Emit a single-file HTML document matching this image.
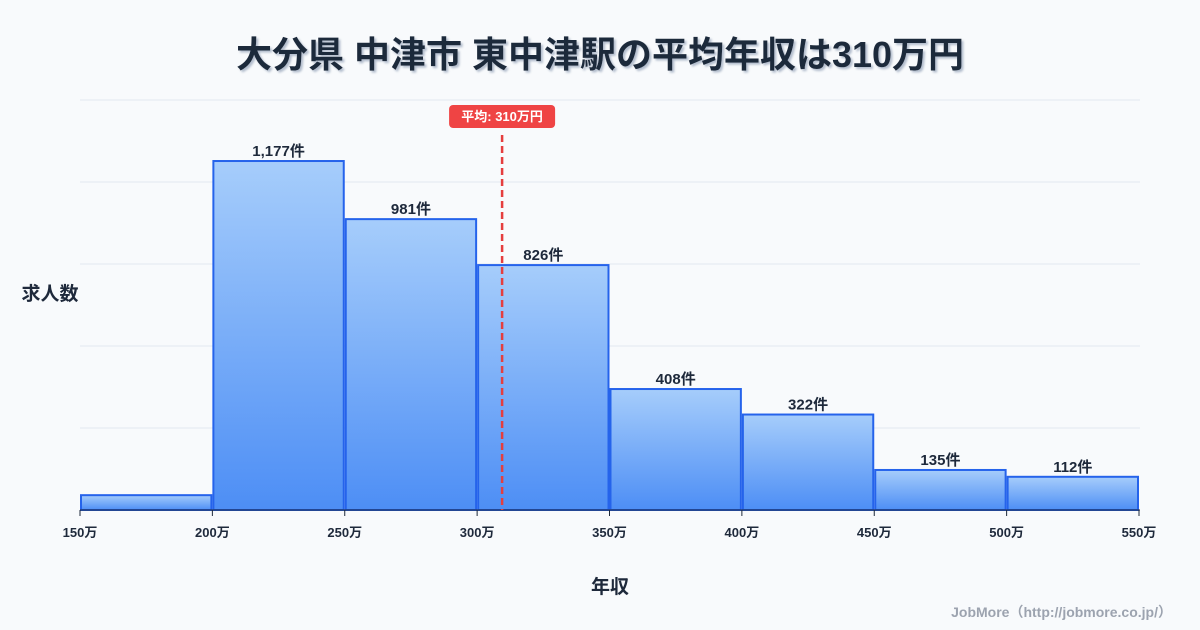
<!DOCTYPE html>
<html><head><meta charset="utf-8"><style>
body{margin:0;background:#f8fafc;}
svg{display:block;font-family:"Liberation Sans","Noto Sans CJK JP",sans-serif;}
</style></head><body>
<svg id="c" width="1200" height="630">
<defs><linearGradient id="g" x1="0" y1="0" x2="0" y2="1"><stop offset="0" stop-color="#a6cdfb"/><stop offset="1" stop-color="#4d8ef5"/></linearGradient>
<filter id="sh"><feDropShadow dx="2" dy="2" stdDeviation="1" flood-color="#94a3b8" flood-opacity="0.7"/></filter></defs>
<rect width="1200" height="630" fill="#f8fafc"/>
<text x="600" y="67" text-anchor="middle" font-size="36" font-weight="bold" fill="#1e293b" filter="url(#sh)">大分県 中津市 東中津駅の平均年収は310万円</text>
<text x="50" y="300" text-anchor="middle" font-size="19" font-weight="bold" fill="#1e293b">求人数</text>
<text x="610" y="593" text-anchor="middle" font-size="19" font-weight="bold" fill="#1e293b">年収</text>
<text x="1172" y="617" text-anchor="end" font-size="14" font-weight="bold" fill="#9ca3af">JobMore（http://jobmore.co.jp/）</text>
<g id="grid"></g><g id="bars"></g><g id="axis"></g><g id="mean"></g>
</svg>
<script>
const binStarts=[150,200,250,300,350,400,450,500];
const counts=[50,1177,981,826,408,322,135,112];
const labels=["","1,177件","981件","826件","408件","322件","135件","112件"];
const xTicks=[150,200,250,300,350,400,450,500,550];
const meanValue=310;
const meanLabel="平均: 310万円";
const NS="http://www.w3.org/2000/svg";
const x=v=>80+(v-150)*(1139-80)/400;
const y=v=>510-v*0.2965;
function mk(t,a,p){const e=document.createElementNS(NS,t);for(const k in a)e.setAttribute(k,a[k]);p.appendChild(e);return e;}
const grid=document.getElementById('grid');
for(let i=0;i<6;i++){const gy=100+i*82;const l=mk('line',{x1:80,x2:1140,y1:gy,y2:gy,stroke:'#e2e8f0','stroke-width':1},grid);

}
const bars=document.getElementById('bars');
binStarts.forEach((b,i)=>{const x0=x(b)+1,x1=x(b+50)-1;
const r=mk('rect',{x:x0,y:y(counts[i]),width:x1-x0,height:510-y(counts[i]),fill:'url(#g)',stroke:'#2563eb','stroke-width':2},bars);


if(labels[i]){const t=mk('text',{x:(x0+x1)/2,y:y(counts[i])-5,'text-anchor':'middle','font-size':15,'font-weight':'bold',fill:'#1e293b'},bars);t.textContent=labels[i];

}});
const ax=document.getElementById('axis');
const bl=mk('line',{x1:80,x2:1140,y1:510,y2:510,stroke:'#1e293b','stroke-width':1},ax);


xTicks.forEach(v=>{mk('line',{x1:x(v),x2:x(v),y1:510,y2:516,stroke:'#1e293b'},ax);
const t=mk('text',{x:x(v),y:537,'text-anchor':'middle','font-size':13,'font-weight':'bold',fill:'#1e293b'},ax);t.textContent=v+'万';

});
const m=document.getElementById('mean');const mx=x(meanValue)-1.5;
const ml=mk('line',{x1:mx,x2:mx,y1:135,y2:510,stroke:'#e53e3e','stroke-width':2.5,'stroke-dasharray':'7,4'},m);


const mr=mk('rect',{x:mx-53,y:105,width:106,height:23,rx:4,fill:'#ef4444'},m);


const mt=mk('text',{x:mx,y:121,'text-anchor':'middle','font-size':13,'font-weight':'bold',fill:'#fff'},m);mt.textContent=meanLabel;


</script>
</body></html>
